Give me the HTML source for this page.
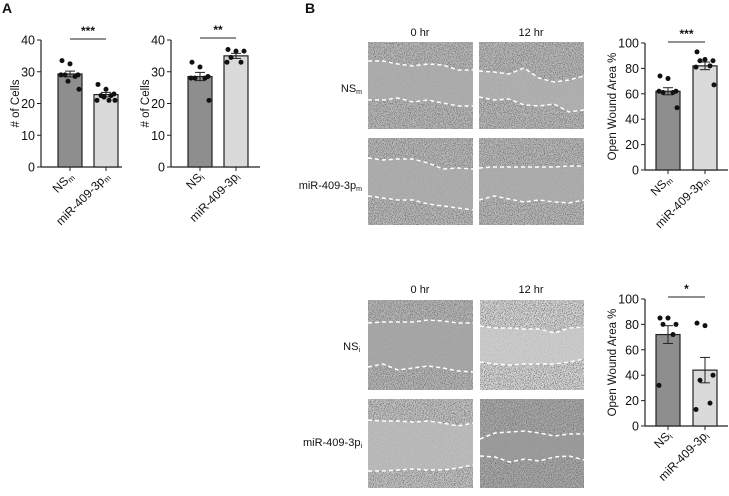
<!DOCTYPE html>
<html><head><meta charset="utf-8"><style>
body{margin:0;background:#fff;width:729px;height:491px;overflow:hidden}
svg text{font-family:"Liberation Sans",Arial,sans-serif;fill:#111}
</style></head><body>
<svg id="fig" width="729" height="491" viewBox="0 0 729 491" xmlns="http://www.w3.org/2000/svg">
<defs>
<filter id="tex" x="0" y="0" width="100%" height="100%">
<feTurbulence type="fractalNoise" baseFrequency="1.1" numOctaves="2" seed="3"/>
<feColorMatrix type="matrix" values="0 0 0 0 0.15  0 0 0 0 0.15  0 0 0 0 0.15  4.5 0 0 0 -2.1"/>
</filter>
</defs>
<text x="2" y="13" font-size="14" font-weight="bold">A</text>
<text x="305" y="13" font-size="14" font-weight="bold">B</text>
<g id="imgs"></g>
<g id="charts"></g>
</svg>
<script>
// ---- chart data ----
const c1Categories = ["NSm","miR-409-3pm"];
const c1Means = [29.3, 22.8];
const c1Sem = [0.9, 0.7];
const c1Points0 = [33.5, 32.5, 29, 29, 28.5, 29, 24.5, 27];
const c1Points1 = [26, 24.5, 23, 22.5, 22.5, 21, 21, 22, 21];
const c2Categories = ["NSi","miR-409-3pi"];
const c2Means = [28.5, 35];
const c2Sem = [1.3, 0.8];
const c2Points0 = [33, 31.5, 28.5, 28, 28, 28, 21];
const c2Points1 = [37, 36.5, 36.5, 34.5, 33, 33];
const c3Means = [62, 82];
const c3Sem = [2.8, 3];
const c3Points0 = [74, 72, 62, 61, 61, 62, 49];
const c3Points1 = [93, 87, 86, 86, 82, 81, 67];
const c4Means = [72, 44];
const c4Sem = [7, 10];
const c4Points0 = [85, 85, 80, 80, 72, 32];
const c4Points1 = [81, 79, 40, 36, 18, 13];
const ticks40 = [0,10,20,30,40];
const ticks100 = [0,20,40,60,80,100];

const NS="http://www.w3.org/2000/svg";
function mk(tag, attrs, parent, txt){const e=document.createElementNS(NS,tag);for(const k in attrs)e.setAttribute(k,attrs[k]);if(txt!==undefined)e.textContent=txt;parent.appendChild(e);return e;}
const charts=document.getElementById('charts');
const jit=[-8,0,8,-5,5,-9,9,-2,3];

function drawChart(o){
  const g=mk('g',{},charts);
  
  
  const y=v=>o.y0-(v/o.max)*(o.y0-o.yTop);
  const ax=mk('line',{x1:o.ax,y1:y(o.max),x2:o.ax,y2:o.y0,stroke:'#222','stroke-width':1.2},g);
  
  
  const xa=mk('line',{x1:o.ax,y1:o.y0,x2:o.axEnd,y2:o.y0,stroke:'#222','stroke-width':1.2},g);
  
  
  o.ticks.forEach(t=>{
    mk('line',{x1:o.ax-4,y1:y(t),x2:o.ax,y2:y(t),stroke:'#222'},g);
    const tl=mk('text',{x:o.ax-6,y:y(t)+4.5,'font-size':12.5,'text-anchor':'end'},g,t);
    
    
  });
  const yt=mk('text',{x:0,y:0,'font-size':11.5,'text-anchor':'middle',transform:`translate(${o.ax-o.titleOff},${(o.y0+y(o.max))/2}) rotate(-90)`},g,o.title);
  
  
  const fills=['#8e8e8e','#dadada'];
  o.means.forEach((m,i)=>{
    const cx=o.cx[i];
    const b=mk('rect',{x:cx-12,y:y(m),width:24,height:o.y0-y(m),fill:fills[i],stroke:'#222','stroke-width':1.2},g);
    
    
    mk('line',{x1:cx,y1:y(m+o.sem[i]),x2:cx,y2:y(m-o.sem[i]),stroke:'#222'},g);
    mk('line',{x1:cx-5,y1:y(m+o.sem[i]),x2:cx+5,y2:y(m+o.sem[i]),stroke:'#222'},g);
    mk('line',{x1:cx-5,y1:y(m-o.sem[i]),x2:cx+5,y2:y(m-o.sem[i]),stroke:'#222'},g);
    mk('line',{x1:cx,y1:o.y0,x2:cx,y2:o.y0+4,stroke:'#222'},g);
    o.points[i].forEach((p,j)=>{
      const d=mk('circle',{cx:cx+jit[j%jit.length],cy:y(p),r:2.5,fill:'#111'},g);
      
      
    });
    const [base,sub]=[o.cats[i].slice(0,-1),o.cats[i].slice(-1)];
    const lab=mk('text',{'font-size':12,'text-anchor':'end',transform:`translate(${cx+4},${o.y0+10}) rotate(-45)`},g);
    
    
    mk('tspan',{},lab,base);
    mk('tspan',{'font-size':8,dy:2},lab,sub);
  });
  const sy=o.sigY;
  mk('line',{x1:o.cx[0],y1:sy,x2:o.cx[1],y2:sy,stroke:'#222'},g);
  const st=mk('text',{x:(o.cx[0]+o.cx[1])/2,y:sy-4,'font-size':12,'font-weight':'bold','text-anchor':'middle'},g,o.sig);
  
  
}
drawChart({name:'chart-a-mimic',cats:c1Categories,means:c1Means,sem:c1Sem,points:[c1Points0,c1Points1],ticks:ticks40,max:40,ax:41,axEnd:122,y0:167,yTop:40,cx:[70,106],title:'# of Cells',titleOff:22,sigY:39,sig:'***'});
drawChart({name:'chart-a-inhibitor',cats:c2Categories,means:c2Means,sem:c2Sem,points:[c2Points0,c2Points1],ticks:ticks40,max:40,ax:171,axEnd:260,y0:167,yTop:40,cx:[200,236],title:'# of Cells',titleOff:22,sigY:38,sig:'**'});
drawChart({name:'chart-b-mimic',cats:c1Categories,means:c3Means,sem:c3Sem,points:[c3Points0,c3Points1],ticks:ticks100,max:100,ax:645,axEnd:728,y0:170,yTop:43,cx:[668,705],title:'Open Wound Area %',titleOff:29,sigY:42,sig:'***'});
drawChart({name:'chart-b-inhibitor',cats:c2Categories,means:c4Means,sem:c4Sem,points:[c4Points0,c4Points1],ticks:ticks100,max:100,ax:645,axEnd:728,y0:426,yTop:299,cx:[668,705],title:'Open Wound Area %',titleOff:29,sigY:297,sig:'*'});

// ---- wound images ----
const imgs=document.getElementById('imgs');
function wound(x,y,w,h,name,bg,gapTop,gapBot,gapFill){
  const g=mk('g',{},imgs);
  
  
  mk('rect',{x,y,width:w,height:h,fill:bg},g);
  mk('rect',{x,y,width:w,height:h,filter:'url(#tex)',opacity:0.9},g);
  const n=gapTop.length-1;
  const tp=gapTop.map((v,i)=>`${x+w*i/n},${y+v}`).join(' ');
  const bpts=gapBot.map((v,i)=>`${x+w*i/n},${y+v}`);
  mk('polygon',{points:tp+' '+bpts.slice().reverse().join(' '),fill:gapFill,opacity:0.8},g);
  mk('polyline',{points:tp,fill:'none',stroke:'#fff','stroke-width':1.5,'stroke-dasharray':'4,3'},g);
  mk('polyline',{points:bpts.join(' '),fill:'none',stroke:'#fff','stroke-width':1.5,'stroke-dasharray':'4,3'},g);
}
wound(368,42,105,87,'image-nsm-0hr','#b8b8b8',[19,19,22,24,22,23,28,28],[58,58,56,60,58,61,64,64],'#acacac');
wound(479,42,105,87,'image-nsm-12hr','#b8b8b8',[29,30,32,26,36,40,38,34],[55,58,57,63,64,62,70,68],'#b0b0b0');
wound(368,138,105,87,'image-mirm-0hr','#b8b8b8',[20,22,21,21,25,31,30,31],[58,60,62,62,66,68,70,72],'#acacac');
wound(479,138,105,87,'image-mirm-12hr','#b8b8b8',[30,29,29,29,29,29,28,28],[62,58,61,64,62,64,65,62],'#acacac');
wound(368,300,105,90,'image-nsi-0hr','#b6b6b6',[23,22,22,22,20,21,23,23],[67,64,70,68,66,68,71,72],'#a6a6a6');
wound(480,300,104,90,'image-nsi-12hr','#d6d6d6',[26,28,28,29,29,33,28,27],[62,64,65,64,64,64,62,59],'#cbcbcb');
wound(368,399,105,89,'image-miri-0hr','#c2c2c2',[21,22,22,23,22,24,27,24],[72,72,71,70,71,71,69,66],'#bbbbbb');
wound(480,399,104,89,'image-miri-12hr','#a8a8a8',[40,34,33,32,34,37,35,35],[57,58,63,60,62,58,57,61],'#9a9a9a');

function lab(x,y,base,sub,anchor,name){
  const t=mk('text',{x,y,'font-size':11,'text-anchor':anchor},imgs);
  
  
  mk('tspan',{},t,base);
  if(sub)mk('tspan',{'font-size':7,dy:2},t,sub);
}
lab(420,36,'0 hr','', 'middle','time-label-0hr-top');
lab(531,36,'12 hr','', 'middle','time-label-12hr-top');
lab(420,293,'0 hr','', 'middle','time-label-0hr-bottom');
lab(531,293,'12 hr','', 'middle','time-label-12hr-bottom');
lab(362,92,'NS','m','end','row-label-nsm');
lab(362,189,'miR-409-3p','m','end','row-label-mirm');
lab(360,350,'NS','i','end','row-label-nsi');
lab(362,446,'miR-409-3p','i','end','row-label-miri');
</script>
</body></html>
